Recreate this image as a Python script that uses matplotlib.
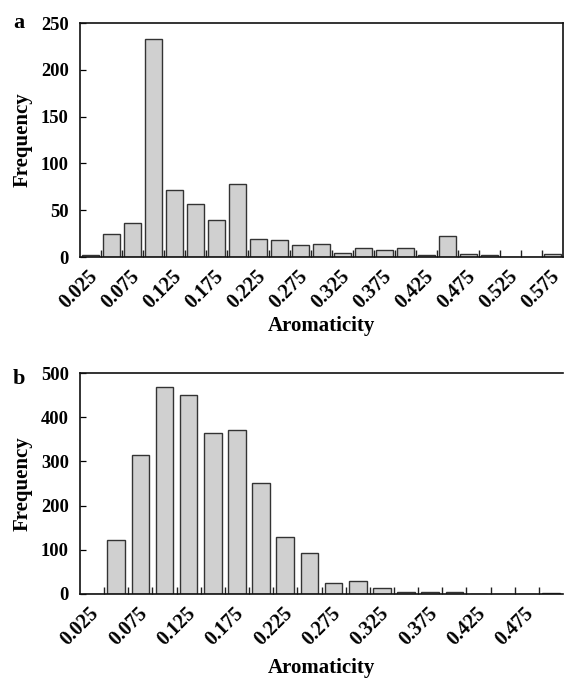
import numpy as np
import matplotlib
matplotlib.use("Agg")
import matplotlib.pyplot as plt
from matplotlib import transforms

plt.rcParams['font.family'] = ['Liberation Serif', 'DejaVu Serif']
plt.rcParams['font.weight'] = 'bold'

# panel a: aromaticity histogram (23 bins)
bins_a = ['0.025', '0.05', '0.075', '0.1', '0.125', '0.15', '0.175', '0.2', '0.225', '0.25',
          '0.275', '0.3', '0.325', '0.35', '0.375', '0.4', '0.425', '0.45', '0.475', '0.5',
          '0.525', '0.55', '0.575']
freq_a = [2, 25, 36, 233, 72, 57, 39, 78, 19, 18, 13, 14, 4, 10, 7, 10, 2, 22, 3, 2, 0, 0, 3]
yticks_a = [0, 50, 100, 150, 200, 250]

# panel b: aromaticity histogram (20 bins)
bins_b = ['0.025', '0.05', '0.075', '0.1', '0.125', '0.15', '0.175', '0.2', '0.225', '0.25',
          '0.275', '0.3', '0.325', '0.35', '0.375', '0.4', '0.425', '0.45', '0.475', '0.5']
freq_b = [0, 122, 315, 468, 451, 364, 372, 252, 129, 92, 26, 29, 13, 5, 4, 4, 0, 0, 0, 2]
yticks_b = [0, 100, 200, 300, 400, 500]

W, H = 564, 678
fig = plt.figure(figsize=(W / 100, H / 100), dpi=100)


def panel(rect_px, bins, freq, yticks, bar_w, letter, letter_y, xlab_y, right_spine):
    l, t, r, b = rect_px
    ax = fig.add_axes([l / W, 1 - b / H, (r - l) / W, (b - t) / H])
    x = np.arange(len(bins))
    ax.bar(x, freq, width=bar_w, color='#d0d0d0', edgecolor='#333333', linewidth=1.0, zorder=2)
    ax.set_xlim(-0.5, len(bins) - 0.5)
    ax.set_ylim(yticks[0], yticks[-1])
    ax.set_yticks(yticks)
    ax.set_yticklabels([str(v) for v in yticks], fontsize=13.3, fontweight='bold')

    # labels at every other bin centre, tick marks on bin boundaries
    ax.set_xticks(x[::2])
    ax.set_xticklabels(bins[::2] if bins[-1] != '0.5' else bins[::2], fontsize=14.5,
                       fontweight='bold', rotation=45, ha='right', va='top',
                       rotation_mode='anchor')
    ax.set_xticks(x[:-1] + 0.5, minor=True)
    ax.tick_params(axis='x', which='major', length=0, pad=7)
    ax.tick_params(axis='x', which='minor', direction='in', length=5, width=1, color='#222222')
    ax.tick_params(axis='y', direction='in', length=4.5, width=0.9, pad=8)
    off = transforms.ScaledTranslation(-3 / 100, 0, fig.dpi_scale_trans)
    for lab in ax.get_xticklabels():
        lab.set_transform(lab.get_transform() + off)

    for s in ax.spines.values():
        s.set_linewidth(1.2)
        s.set_color('#111111')
    ax.spines['right'].set_visible(right_spine)

    ax.set_xlabel('Aromaticity', fontsize=15, fontweight='bold')
    ax.xaxis.label.set_va('center')
    ax.xaxis.set_label_coords(0.5, -(xlab_y - b) / (b - t))
    ax.set_ylabel('Frequency', fontsize=15, fontweight='bold')
    ax.yaxis.label.set_va('center')
    ax.yaxis.set_label_coords((22.5 - l) / (r - l), 0.5)

    fig.text(19 / W, 1 - letter_y / H, letter, fontsize=16, fontweight='bold',
             ha='center', va='baseline')
    return ax


panel((80, 23, 563, 257), bins_a, freq_a, yticks_a, 0.77, 'a', 28, 325.5, True)
panel((80, 373, 563, 594), bins_b, freq_b, yticks_b, 0.73, 'b', 384, 668.5, False)

fig.savefig('out.png', dpi=100)
